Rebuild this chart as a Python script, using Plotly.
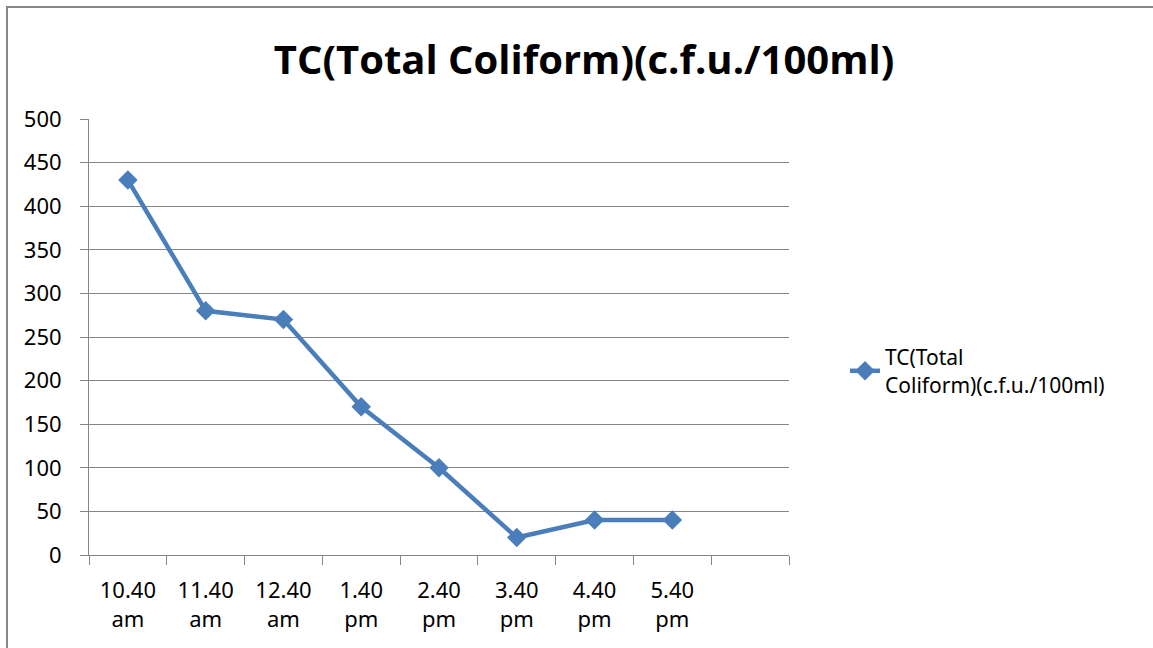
import plotly.graph_objects as go

categories = ["10.40<br>am", "11.40<br>am", "12.40<br>am", "1.40<br>pm",
              "2.40<br>pm", "3.40<br>pm", "4.40<br>pm", "5.40<br>pm"]
slots = categories + [" "]
tc_values = [430, 280, 270, 170, 100, 20, 40, 40]
series_name = "TC(Total<br>Coliform)(c.f.u./100ml)"
title_text = "TC(Total Coliform)(c.f.u./100ml)"

W, H = 1153, 648
L, R, T, B = 89, 1153 - 789, 119, 648 - 555
pw, ph = W - L - R, H - T - B

fig = go.Figure()
fig.add_trace(go.Scatter(
    x=categories, y=tc_values, mode="lines+markers", name=series_name,
    line=dict(color="#4A7EBB", width=4.5),
    marker=dict(symbol="diamond", size=15, color="#4A7EBB"),
))

grey = "#868686"
fig.update_layout(
    width=W, height=H, autosize=False,
    margin=dict(l=L, r=R, t=T, b=B),
    paper_bgcolor="white", plot_bgcolor="white",
    font=dict(family="Noto Sans", size=22, color="black"),
    title=dict(text=f"<b>{title_text}</b>", x=(584) / W, xanchor="center",
               y=1 - 60 / H, yanchor="middle",
               font=dict(family="Open Sans", size=40, color="black")),
    showlegend=True,
    legend=dict(x=(845 - L) / pw, y=(555 - 371) / ph, xanchor="left", yanchor="middle",
                font=dict(family="Noto Sans", size=21, color="black"),
                bgcolor="rgba(0,0,0,0)", itemwidth=30),
    xaxis=dict(type="category", categoryorder="array", categoryarray=slots,
               range=[-0.5, len(slots) - 0.5], tickson="boundaries",
               showline=True, linecolor=grey, linewidth=1,
               ticks="outside", ticklen=9, tickcolor=grey, tickwidth=1,
               showgrid=False, zeroline=False, ticklabelstandoff=16,
               tickfont=dict(family="Noto Sans", size=22)),
    yaxis=dict(range=[0, 500], dtick=50, tick0=0,
               showline=True, linecolor=grey, linewidth=1,
               ticks="outside", ticklen=8, tickcolor=grey, tickwidth=1,
               showgrid=True, gridcolor=grey, gridwidth=1, zeroline=False,
               ticklabelstandoff=14,
               tickfont=dict(family="Noto Sans", size=22)),
)

fig.add_shape(type="rect", xref="paper", yref="paper",
              x0=(7 - L) / pw, x1=(W + 10 - L) / pw,
              y0=(555 - (H + 10)) / ph, y1=(555 - 7) / ph,
              line=dict(color=grey, width=2), fillcolor="rgba(0,0,0,0)", layer="below")

fig.write_html("out.html")
